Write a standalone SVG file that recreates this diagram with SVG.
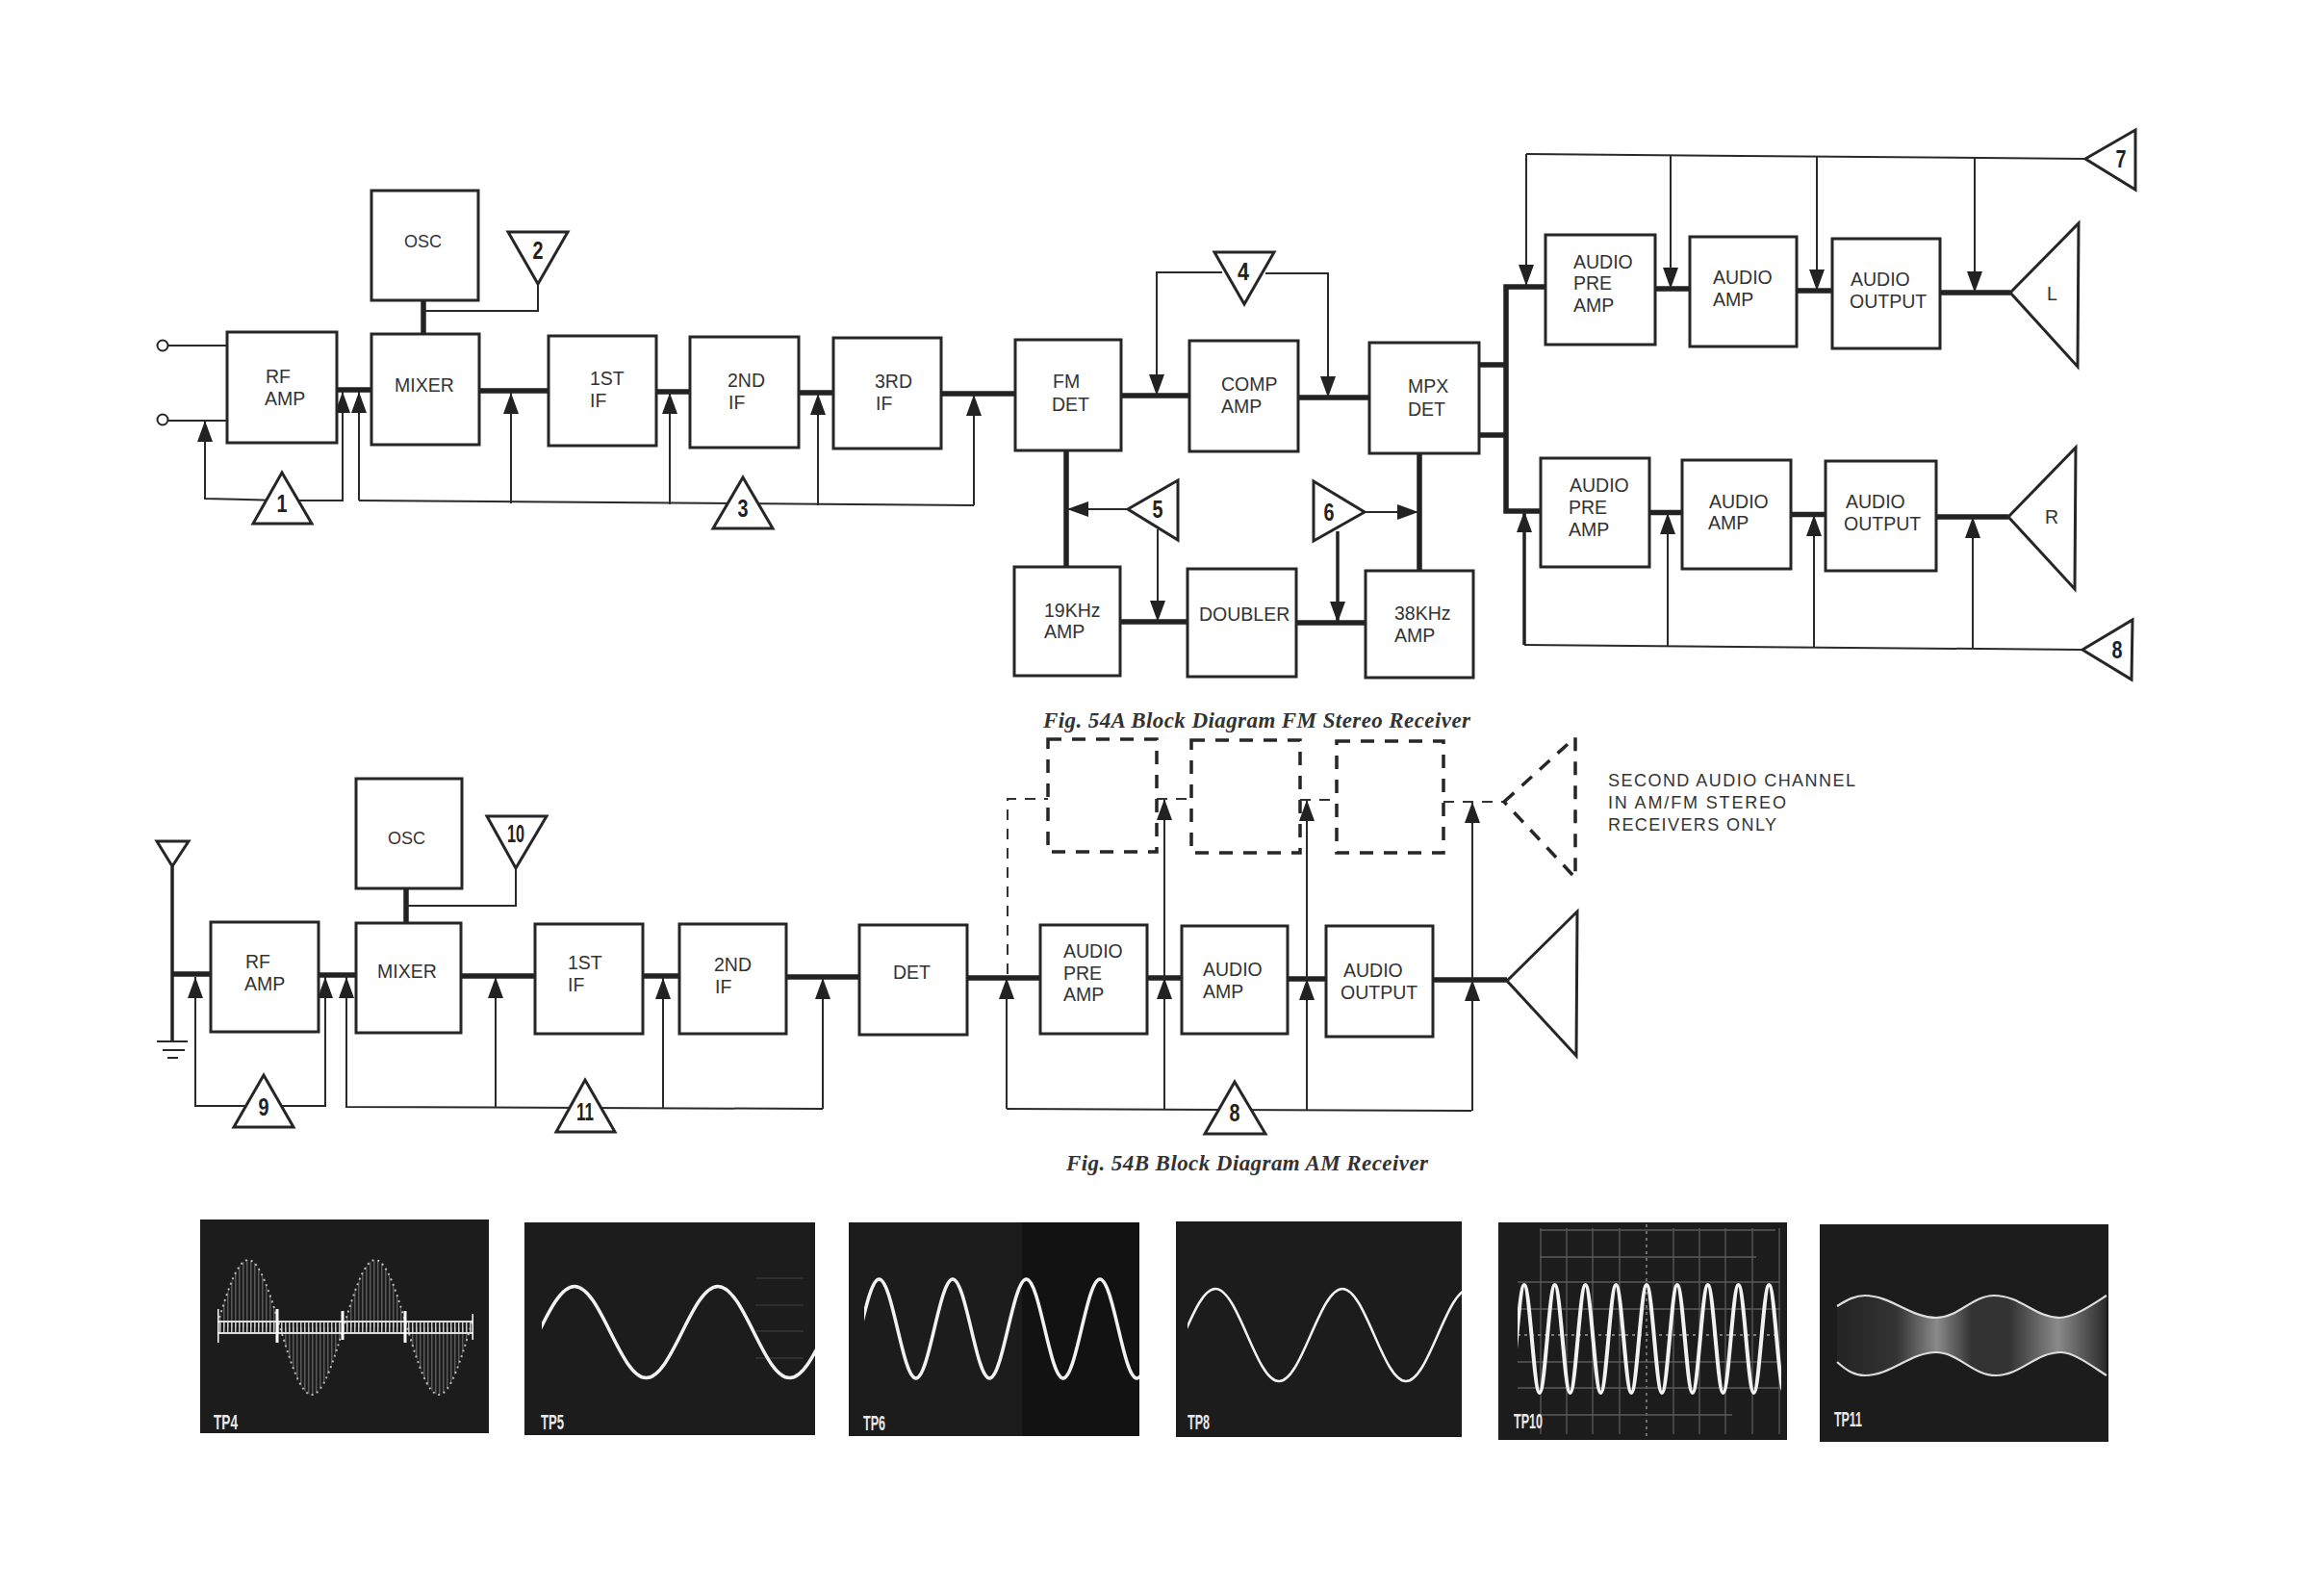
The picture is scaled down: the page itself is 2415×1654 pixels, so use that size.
<svg xmlns="http://www.w3.org/2000/svg" width="2415" height="1654" viewBox="0 0 2415 1654">
<style>
.b{fill:#fff;stroke:#262626;stroke-width:3}
.d{fill:none;stroke:#262626;stroke-width:3.5;stroke-dasharray:14 11}
.t{font-family:"Liberation Sans",Arial,sans-serif;font-size:19.5px;fill:#333}
.o{font-size:18px}
.n{font-family:"Liberation Sans",Arial,sans-serif;font-size:25px;font-weight:700;fill:#222;text-anchor:middle}
.tri{fill:#fff;stroke:#262626;stroke-width:3;stroke-linejoin:miter}
.thin{fill:none;stroke:#2a2a2a;stroke-width:2}
.thick{fill:none;stroke:#222;stroke-width:5.5}
.med{fill:none;stroke:#222;stroke-width:3.5}
.dash{fill:none;stroke:#333;stroke-width:2;stroke-dasharray:11 9}
.a{marker-end:url(#arr)}
.cap{font-family:"Liberation Serif","Times New Roman",serif;font-style:italic;font-weight:700;font-size:23px;fill:#333}
.ph{fill:#1c1c1c}
.tp{font-family:"Liberation Sans",Arial,sans-serif;font-size:22px;font-weight:700;fill:#e8e8e8}
.w{fill:none;stroke:#f2f2f2}
.g{stroke:#5a5a5a;stroke-width:1.3;fill:none}
</style>
<defs>
<marker id="arr" markerUnits="userSpaceOnUse" markerWidth="23" markerHeight="18" refX="22" refY="8" orient="auto"><path d="M0,0L22,8L0,16z" fill="#222"/></marker>
<pattern id="hatch" width="4" height="6" patternUnits="userSpaceOnUse"><rect width="1.5" height="6" fill="#c8c8c8"/></pattern>
<linearGradient id="env" gradientUnits="userSpaceOnUse" x1="1909" y1="0" x2="2189" y2="0">
<stop offset="0" stop-color="#242424"/><stop offset=".22" stop-color="#333"/><stop offset=".37" stop-color="#8a8a8a"/><stop offset=".5" stop-color="#333"/><stop offset=".64" stop-color="#333"/><stop offset=".82" stop-color="#8a8a8a"/><stop offset="1" stop-color="#2a2a2a"/>
</linearGradient>
<clipPath id="c4"><rect x="226" y="1267" width="266" height="222"/></clipPath>
<clipPath id="c5"><rect x="563" y="1270" width="284" height="221"/></clipPath>
<clipPath id="c6"><rect x="898" y="1270" width="286" height="222"/></clipPath>
<clipPath id="c8"><rect x="1234" y="1269" width="285" height="224"/></clipPath>
<clipPath id="c10"><rect x="1577" y="1270" width="274" height="226"/></clipPath>
</defs>

<g id="connectors">
<path class="thin" d="M175,359H236M175,437H236"/>
<path class="thick" d="M350,405H386M498,406H570M682,407H717M830,408H866M978,409H1055M1165,411H1236M1349,413H1423M1164,646H1234M1347,647H1419"/>
<path class="thick" d="M1108,468V589M1475,471V593M440,312V347"/>
<path class="thin" d="M440,323H559V295"/>
<path class="thin a" d="M293,520L213,518V437"/>
<path class="thin a" d="M293,520H356V407"/>
<path class="thin a" d="M373,520V407"/>
<path class="thin" d="M373,520L1012,525"/>
<path class="thin a" d="M531,523V408"/>
<path class="thin a" d="M696,524V408"/>
<path class="thin a" d="M850,525V409"/>
<path class="thin a" d="M1012,525V410"/>
<path class="thin a" d="M1270,283H1202V411"/>
<path class="thin a" d="M1315,284H1380V413"/>
<path class="thin a" d="M1172,529H1109"/>
<path class="thin a" d="M1203,550V646"/>
<path class="thin a" d="M1418,532H1474"/>
<path class="med a" d="M1390,552V647"/>
<path class="thick" d="M1537,379H1565M1537,452H1565"/>
<path class="thick" d="M1606,298H1565V531H1601"/>
<path class="thick" d="M1720,300H1756M1867,302H1904M2016,304H2089M1714,532.500H1748M1861,534.500H1897M2012,537H2087"/>
<path class="thin" d="M1586,160L2167,165"/>
<path class="thin a" d="M1586,160V297"/>
<path class="thin a" d="M1736,161V300"/>
<path class="thin a" d="M1888,163V302"/>
<path class="thin a" d="M2052,164V304"/>
<path class="thin" d="M1584,670L2163,675"/>
<path class="med a" d="M1584,670V531"/>
<path class="thin a" d="M1733,671V533"/>
<path class="thin a" d="M1885,673V535"/>
<path class="thin a" d="M2050,674V537"/>
<path class="med" d="M179,900V1082"/>
<path class="thin" d="M163,1082H195M169,1091H192M174,1099H185"/>
<path class="thick" d="M179,1012H219M331,1013H370M479,1014H556M668,1014H706M817,1015H893M1005,1016H1081M1192,1016H1228M1338,1017H1378M1489,1018H1566"/>
<path class="thick" d="M422,923V959"/>
<path class="thin" d="M422,941H536V902"/>
<path class="thin a" d="M274,1149H203V1015"/>
<path class="thin a" d="M274,1149H338V1015"/>
<path class="thin a" d="M855,1152L360,1150V1015"/>
<path class="thin a" d="M515,1151V1015"/>
<path class="thin a" d="M689,1151V1016"/>
<path class="thin a" d="M855,1152V1016"/>
<path class="thin" d="M1046,1152L1529,1154"/>
<path class="thin a" d="M1046,1152V1016"/>
<path class="thin a" d="M1210,1153V1016"/>
<path class="thin a" d="M1210,1016V830"/>
<path class="thin a" d="M1358,1153V1017"/>
<path class="thin a" d="M1358,1017V831"/>
<path class="thin a" d="M1530,1154V1018"/>
<path class="thin a" d="M1530,1018V833"/>
<path class="dash" d="M1047,1012V830H1089M1202,830H1238M1351,831H1389M1500,833H1563"/>
</g>

<g id="fm-terminals"><circle class="b" cx="169" cy="359" r="5.500" style="stroke-width:2"/><circle class="b" cx="169" cy="436" r="5.500" style="stroke-width:2"/></g>
<g id="fm-rf"><rect class="b" x="236" y="345" width="114" height="115"/><text class="t" x="276" y="398">RF</text><text class="t" x="275" y="421">AMP</text></g>
<g id="fm-osc"><rect class="b" x="386" y="198" width="111" height="114"/><text class="t o" x="420" y="257">OSC</text></g>
<g id="fm-mixer"><rect class="b" x="386" y="347" width="112" height="115"/><text class="t" x="410" y="407">MIXER</text></g>
<g id="fm-if1"><rect class="b" x="570" y="349" width="112" height="114"/><text class="t" x="613" y="400">1ST</text><text class="t" x="613" y="423">IF</text></g>
<g id="fm-if2"><rect class="b" x="717" y="350" width="113" height="115"/><text class="t" x="756" y="402">2ND</text><text class="t" x="757" y="425">IF</text></g>
<g id="fm-if3"><rect class="b" x="866" y="351" width="112" height="115"/><text class="t" x="909" y="403">3RD</text><text class="t" x="910" y="426">IF</text></g>
<g id="fm-det"><rect class="b" x="1055" y="353" width="110" height="115"/><text class="t" x="1094" y="403">FM</text><text class="t" x="1093" y="427">DET</text></g>
<g id="fm-comp"><rect class="b" x="1236" y="354" width="113" height="115"/><text class="t" x="1269" y="406">COMP</text><text class="t" x="1269" y="429">AMP</text></g>
<g id="fm-mpx"><rect class="b" x="1423" y="356" width="114" height="115"/><text class="t" x="1463" y="408">MPX</text><text class="t" x="1463" y="432">DET</text></g>
<g id="fm-19k"><rect class="b" x="1054" y="589" width="110" height="113"/><text class="t" x="1085" y="641">19KHz</text><text class="t" x="1085" y="663">AMP</text></g>
<g id="fm-doubler"><rect class="b" x="1234" y="591" width="113" height="112"/><text class="t" x="1246" y="645">DOUBLER</text></g>
<g id="fm-38k"><rect class="b" x="1419" y="593" width="112" height="111"/><text class="t" x="1449" y="644">38KHz</text><text class="t" x="1449" y="667">AMP</text></g>
<g id="fm-pre-l"><rect class="b" x="1606" y="244" width="114" height="114"/><text class="t" x="1635" y="279">AUDIO</text><text class="t" x="1635" y="301">PRE</text><text class="t" x="1635" y="324">AMP</text></g>
<g id="fm-amp-l"><rect class="b" x="1756" y="246" width="111" height="114"/><text class="t" x="1780" y="295">AUDIO</text><text class="t" x="1780" y="318">AMP</text></g>
<g id="fm-out-l"><rect class="b" x="1904" y="248" width="112" height="114"/><text class="t" x="1923" y="297">AUDIO</text><text class="t" x="1922" y="320">OUTPUT</text></g>
<g id="fm-pre-r"><rect class="b" x="1601" y="476" width="113" height="113"/><text class="t" x="1631" y="511">AUDIO</text><text class="t" x="1630" y="534">PRE</text><text class="t" x="1630" y="557">AMP</text></g>
<g id="fm-amp-r"><rect class="b" x="1748" y="478" width="113" height="113"/><text class="t" x="1776" y="528">AUDIO</text><text class="t" x="1775" y="550">AMP</text></g>
<g id="fm-out-r"><rect class="b" x="1897" y="479" width="115" height="114"/><text class="t" x="1918" y="528">AUDIO</text><text class="t" x="1916" y="551">OUTPUT</text></g>
<g id="spk-l"><polygon class="tri" points="2089,304 2160,232 2159,381"/><text class="t" x="2127" y="312">L</text></g>
<g id="spk-r"><polygon class="tri" points="2087,537 2157,465 2156,612"/><text class="t" x="2125" y="544">R</text></g>
<g id="tp1"><polygon class="tri" points="293,491 324,544 263,544"/><text class="n" x="293" y="532" textLength="11" lengthAdjust="spacingAndGlyphs">1</text></g>
<g id="tp2"><polygon class="tri" points="528,241 590,241 559,295"/><text class="n" x="559" y="269" textLength="11" lengthAdjust="spacingAndGlyphs">2</text></g>
<g id="tp3"><polygon class="tri" points="772,496 803,549 741,549"/><text class="n" x="772" y="537" textLength="11" lengthAdjust="spacingAndGlyphs">3</text></g>
<g id="tp4-marker"><polygon class="tri" points="1262,262 1324,262 1293,316"/><text class="n" x="1292" y="291" textLength="12" lengthAdjust="spacingAndGlyphs">4</text></g>
<g id="tp5-marker"><polygon class="tri" points="1172,529 1224,499 1224,561"/><text class="n" x="1203" y="538" textLength="11" lengthAdjust="spacingAndGlyphs">5</text></g>
<g id="tp6-marker"><polygon class="tri" points="1365,500 1418,532 1365,562"/><text class="n" x="1381" y="541" textLength="11" lengthAdjust="spacingAndGlyphs">6</text></g>
<g id="tp7-marker"><polygon class="tri" points="2167,165 2219,135 2219,197"/><text class="n" x="2204" y="174" textLength="11" lengthAdjust="spacingAndGlyphs">7</text></g>
<g id="tp8-marker"><polygon class="tri" points="2164,675 2216,644 2215,706"/><text class="n" x="2200" y="684" textLength="11" lengthAdjust="spacingAndGlyphs">8</text></g>

<g id="caption-a"><text class="cap" x="1084" y="756" textLength="444">Fig. 54A Block Diagram FM Stereo Receiver</text></g>

<g id="am-antenna"><polygon class="tri" points="163,874 196,874 179,900"/></g>
<g id="am-rf"><rect class="b" x="219" y="958" width="112" height="114"/><text class="t" x="255" y="1006">RF</text><text class="t" x="254" y="1029">AMP</text></g>
<g id="am-osc"><rect class="b" x="370" y="809" width="110" height="114"/><text class="t o" x="403" y="877">OSC</text></g>
<g id="am-mixer"><rect class="b" x="370" y="959" width="109" height="114"/><text class="t" x="392" y="1016">MIXER</text></g>
<g id="am-if1"><rect class="b" x="556" y="960" width="112" height="114"/><text class="t" x="590" y="1007">1ST</text><text class="t" x="590" y="1030">IF</text></g>
<g id="am-if2"><rect class="b" x="706" y="960" width="111" height="114"/><text class="t" x="742" y="1009">2ND</text><text class="t" x="743" y="1032">IF</text></g>
<g id="am-det"><rect class="b" x="893" y="961" width="112" height="114"/><text class="t" x="928" y="1017">DET</text></g>
<g id="am-pre"><rect class="b" x="1081" y="961" width="111" height="113"/><text class="t" x="1105" y="995">AUDIO</text><text class="t" x="1105" y="1018">PRE</text><text class="t" x="1105" y="1040">AMP</text></g>
<g id="am-amp"><rect class="b" x="1228" y="962" width="110" height="112"/><text class="t" x="1250" y="1014">AUDIO</text><text class="t" x="1250" y="1037">AMP</text></g>
<g id="am-out"><rect class="b" x="1378" y="962" width="111" height="115"/><text class="t" x="1396" y="1015">AUDIO</text><text class="t" x="1393" y="1038">OUTPUT</text></g>
<g id="am-spk"><polygon class="tri" points="1566,1019 1639,947 1638,1097"/></g>
<g id="am-dash1"><rect class="d" x="1089" y="768" width="113" height="117"/></g>
<g id="am-dash2"><rect class="d" x="1238" y="769" width="113" height="117"/></g>
<g id="am-dash3"><rect class="d" x="1389" y="770" width="111" height="116"/></g>
<g id="am-dash-spk"><polygon class="d" points="1563,833 1637,766 1637,912"/></g>
<g id="am-note"><text class="t o" x="1671" y="817" textLength="257">SECOND AUDIO CHANNEL</text><text class="t o" x="1671" y="840" textLength="185">IN AM/FM STEREO</text><text class="t o" x="1671" y="863" textLength="175">RECEIVERS ONLY</text></g>
<g id="tp9-marker"><polygon class="tri" points="274,1117 305,1171 243,1171"/><text class="n" x="274" y="1159" textLength="11" lengthAdjust="spacingAndGlyphs">9</text></g>
<g id="tp10-marker"><polygon class="tri" points="506,848 568,848 536,902"/><text class="n" x="536" y="875" textLength="18" lengthAdjust="spacingAndGlyphs">10</text></g>
<g id="tp11-marker"><polygon class="tri" points="608,1122 639,1176 578,1176"/><text class="n" x="608" y="1164" textLength="18" lengthAdjust="spacingAndGlyphs">11</text></g>
<g id="tp8b-marker"><polygon class="tri" points="1283,1124 1315,1178 1252,1178"/><text class="n" x="1283" y="1165" textLength="11" lengthAdjust="spacingAndGlyphs">8</text></g>
<g id="caption-b"><text class="cap" x="1108" y="1216" textLength="376">Fig. 54B Block Diagram AM Receiver</text></g>

<g id="photo-tp4">
<rect class="ph" x="208" y="1267" width="300" height="222"/>
<g clip-path="url(#c4)">
<path fill="url(#hatch)" opacity=".35" d="M192,1449c24,0 42,-140 66,-140c24,0 42,140 66,140c24,0 42,-140 66,-140c24,0 42,140 66,140c24,0 42,-140 66,-140L522,1379L192,1379Z"/>
<path fill="none" stroke="#b8b8b8" stroke-width="2" stroke-dasharray="2 4" d="M192,1449c24,0 42,-140 66,-140c24,0 42,140 66,140c24,0 42,-140 66,-140c24,0 42,140 66,140c24,0 42,-140 66,-140"/>
<rect x="226" y="1372" width="266" height="14" fill="url(#hatch)"/>
<path fill="none" stroke="#ddd" stroke-width="2" d="M226,1373H492M226,1385H492"/>
<path fill="none" stroke="#fff" stroke-width="3" d="M226,1360V1395M288,1360V1395M356,1362V1392M421,1362V1395M492,1365V1392"/>
</g>
<text class="tp" x="222" y="1485" textLength="25" lengthAdjust="spacingAndGlyphs">TP4</text>
</g>
<g id="photo-tp5">
<rect class="ph" x="545" y="1270" width="302" height="221"/>
<path class="g" opacity=".4" d="M785,1328H835M785,1356H835M785,1383H835M785,1411H835"/>
<path class="w" stroke-width="3.500" clip-path="url(#c5)" d="M522.500,1431.500c27.100,0 47.400,-95 74.500,-95c27.100,0 47.400,95 74.500,95c27.100,0 47.400,-95 74.500,-95c27.100,0 47.400,95 74.500,95c27.100,0 47.400,-95 74.500,-95"/>
<text class="tp" x="562" y="1485" textLength="24" lengthAdjust="spacingAndGlyphs">TP5</text>
</g>
<g id="photo-tp6">
<rect class="ph" x="882" y="1270" width="302" height="222"/>
<rect x="1062" y="1270" width="122" height="222" fill="#121212"/>
<path class="w" stroke-width="3.500" clip-path="url(#c6)" d="M875.250,1432c13.900,0 24.350,-103 38.250,-103c13.900,0 24.350,103 38.250,103c13.900,0 24.350,-103 38.250,-103c13.900,0 24.350,103 38.250,103c13.900,0 24.350,-103 38.250,-103c13.900,0 24.350,103 38.250,103c13.900,0 24.350,-103 38.250,-103c13.900,0 24.350,103 38.250,103c13.900,0 24.350,-103 38.250,-103"/>
<text class="tp" x="897" y="1486" textLength="23" lengthAdjust="spacingAndGlyphs">TP6</text>
</g>
<g id="photo-tp8">
<rect class="ph" x="1222" y="1269" width="297" height="224"/>
<path class="w" stroke-width="2.500" clip-path="url(#c8)" d="M1197,1435c24,0 42,-96 66,-96c24,0 42,96 66,96c24,0 42,-96 66,-96c24,0 42,96 66,96c24,0 42,-96 66,-96"/>
<text class="tp" x="1234" y="1485" textLength="23" lengthAdjust="spacingAndGlyphs">TP8</text>
</g>
<g id="photo-tp10">
<rect class="ph" x="1557" y="1270" width="300" height="226"/>
<path class="g" d="M1601,1276V1490M1628,1276V1490M1655,1276V1490M1683,1276V1490M1739,1276V1490M1766,1276V1490M1793,1276V1490M1821,1276V1490M1849,1276V1490"/>
<path class="g" stroke-dasharray="3 4" style="stroke:#999" d="M1711,1272V1494M1577,1387H1850"/>
<path class="g" d="M1600,1278H1845M1600,1306H1825M1577,1332H1850M1577,1360H1850M1577,1415H1850M1577,1442H1850M1600,1470H1800"/>
<path class="w" stroke-width="4" clip-path="url(#c10)" d="M1568,1447c5.800,0 10.100,-112 15.900,-112c5.800,0 10.100,112 15.900,112c5.800,0 10.100,-112 15.900,-112c5.800,0 10.100,112 15.900,112c5.800,0 10.100,-112 15.900,-112c5.800,0 10.100,112 15.900,112c5.800,0 10.100,-112 15.900,-112c5.800,0 10.100,112 15.900,112c5.800,0 10.100,-112 15.900,-112c5.800,0 10.100,112 15.900,112c5.800,0 10.100,-112 15.900,-112c5.800,0 10.100,112 15.900,112c5.800,0 10.100,-112 15.900,-112c5.800,0 10.100,112 15.900,112c5.800,0 10.100,-112 15.900,-112c5.800,0 10.100,112 15.900,112c5.800,0 10.100,-112 15.900,-112c5.800,0 10.100,112 15.900,112"/>
<text class="tp" x="1573" y="1484" textLength="30" lengthAdjust="spacingAndGlyphs">TP10</text>
</g>
<g id="photo-tp11">
<rect class="ph" x="1891" y="1272" width="300" height="226"/>
<path fill="url(#env)" d="M1909,1357C1920,1350 1928,1346 1938,1346C1965,1346 1985,1369 2012,1369C2035,1369 2050,1346 2072,1346C2100,1346 2115,1369 2140,1369C2155,1369 2175,1355 2189,1346L2189,1429C2175,1420 2155,1405 2142,1405C2115,1405 2100,1429 2074,1429C2050,1429 2035,1405 2012,1405C1985,1405 1965,1429 1938,1429C1928,1429 1920,1425 1909,1415Z"/>
<path fill="none" stroke="#ddd" stroke-width="2.200" d="M1909,1357C1920,1350 1928,1346 1938,1346C1965,1346 1985,1369 2012,1369C2035,1369 2050,1346 2072,1346C2100,1346 2115,1369 2140,1369C2155,1369 2175,1355 2189,1346M1909,1415C1920,1425 1928,1429 1938,1429C1965,1429 1985,1405 2012,1405C2035,1405 2050,1429 2074,1429C2100,1429 2115,1405 2142,1405C2155,1405 2175,1420 2189,1429"/>
<text class="tp" x="1906" y="1482" textLength="29" lengthAdjust="spacingAndGlyphs">TP11</text>
</g>
</svg>
